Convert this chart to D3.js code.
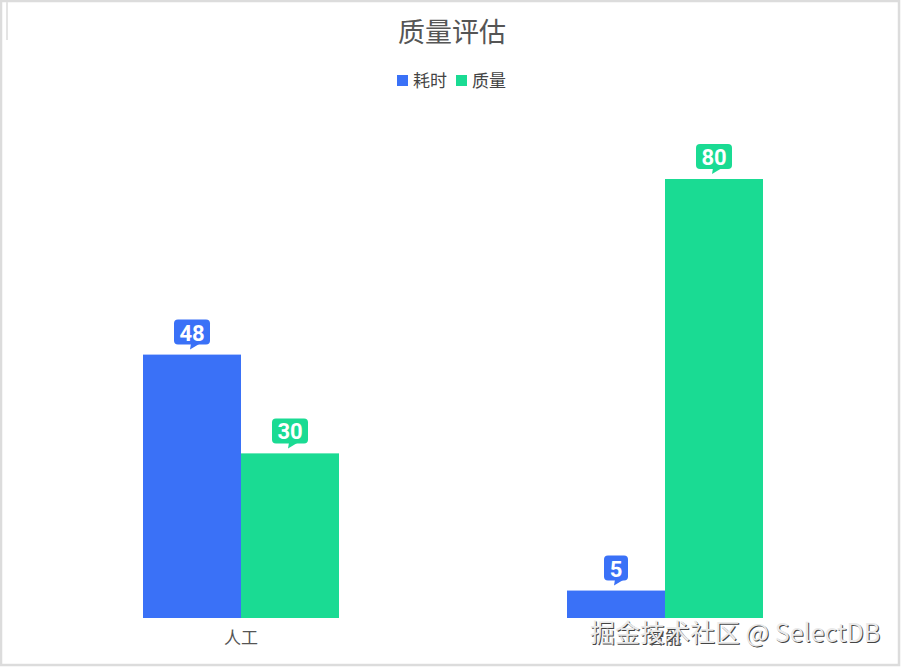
<!DOCTYPE html>
<html>
<head>
<meta charset="utf-8">
<script src="https://cdn.jsdelivr.net/npm/d3@7"></script>
<style>
  body { margin: 0; background: #fff; }
  text { font-family: "Noto Sans CJK SC", "Noto Sans", sans-serif; }
</style>
</head>
<body>
<div id="container"></div>
<script>
/* DATA */
const categories = ["人工", "智能"]
const seriesNames = ["耗时", "质量"]
const costValues = [48, 5]
const qualityValues = [30, 80]
const colors = ["#3a71f7", "#1adb93"]

/* CONSTANTS */
const width = 902,
    height = 668

const svg = d3.select("#container")
    .append("svg")
    .attr("width", width)
    .attr("height", height)

// frame
svg.append("rect")
    .attr("x", 1).attr("y", 1)
    .attr("width", width - 4).attr("height", height - 4)
    .attr("fill", "white")
    .attr("stroke", "#dcdcdc")
    .attr("stroke-width", 2.5)
svg.append("line")
    .attr("x1", 7).attr("x2", 7)
    .attr("y1", 2).attr("y2", 40)
    .attr("stroke", "#e4e4e4")
    .attr("stroke-width", 2)

//SCALES
const xScale = d3.scaleBand()
    .domain(categories)
    .range([29, 877])

const xInner = d3.scaleBand()
    .domain(seriesNames)
    .range([0, 196])

const yScale = d3.scaleLinear()
    .domain([0, 80])
    .range([618, 179])

const rows = categories.map((c, i) => ({
    category: c,
    values: [costValues[i], qualityValues[i]]
}))

const groups = svg.selectAll("g.group")
    .data(rows)
    .join("g")
    .attr("class", "group")
    .attr("transform", d => "translate(" + (xScale(d.category) + xScale.bandwidth() / 2 - 98) + ",0)")

const cells = groups.selectAll("g.cell")
    .data(d => d.values.map((v, j) => ({ name: seriesNames[j], value: v, color: colors[j] })))
    .join("g")
    .attr("class", "cell")

cells.append("rect")
    .attr("x", d => xInner(d.name))
    .attr("y", d => yScale(d.value))
    .attr("width", xInner.bandwidth())
    .attr("height", d => yScale(0) - yScale(d.value))
    .attr("fill", d => d.color)

// LABEL BADGES
cells.each(function (d) {
    const g = d3.select(this)
    const cx = xInner(d.name) + xInner.bandwidth() / 2
    const bottom = yScale(d.value) - 10
    const w = String(d.value).length > 1 ? 36 : 24
    const h = 25
    g.append("rect")
        .attr("x", cx - w / 2)
        .attr("y", bottom - h)
        .attr("width", w)
        .attr("height", h)
        .attr("rx", 4)
        .attr("fill", d.color)
    g.append("path")
        .attr("d", "M" + (cx - 1) + "," + (bottom - 1) + "L" + (cx - 2) + "," + (bottom + 5) + "L" + (cx + 8) + "," + (bottom - 1) + "Z")
        .attr("fill", d.color)
    g.append("text")
        .attr("x", cx)
        .attr("y", bottom - h / 2 + 1)
        .attr("text-anchor", "middle")
        .attr("dominant-baseline", "central")
        .attr("fill", "white")
        .style("font-family", "Roboto, sans-serif")
        .style("font-weight", "bold")
        .style("font-size", "22px")
        .text(d.value)
})

// AXIS LABELS
const xAxis = d3.axisBottom(xScale).tickSize(0).tickPadding(14)
const axisG = svg.append("g")
    .attr("transform", "translate(0,618)")
    .call(xAxis)
axisG.select(".domain").remove()
axisG.selectAll("text")
    .style("font-family", "'Noto Sans CJK SC', sans-serif")
    .style("font-size", "17px")
    .attr("fill", "#555")

// TITLE
svg.append("text")
    .attr("x", 452)
    .attr("y", 42)
    .attr("text-anchor", "middle")
    .attr("fill", "#555")
    .style("font-size", "27px")
    .text("质量评估")

// LEGEND
const legendX = [397, 456]
const legend = svg.selectAll("g.legend")
    .data(seriesNames)
    .join("g")
    .attr("class", "legend")
    .attr("transform", (d, i) => "translate(" + legendX[i] + ",75)")
legend.append("rect")
    .attr("width", 11).attr("height", 11)
    .attr("fill", (d, i) => colors[i])
legend.append("text")
    .attr("x", 16)
    .attr("y", 12)
    .attr("fill", "#444")
    .style("font-size", "17px")
    .text(d => d)

// WATERMARK
const mark = "掘金技术社区 @ SelectDB"
svg.append("text")
    .attr("x", 591).attr("y", 643)
    .attr("fill", "#444")
    .style("font-size", "25px")
    .text(mark)
svg.append("text")
    .attr("x", 590).attr("y", 642)
    .attr("fill", "#eaeaea")
    .style("font-size", "25px")
    .text(mark)
</script>
</body>
</html>
